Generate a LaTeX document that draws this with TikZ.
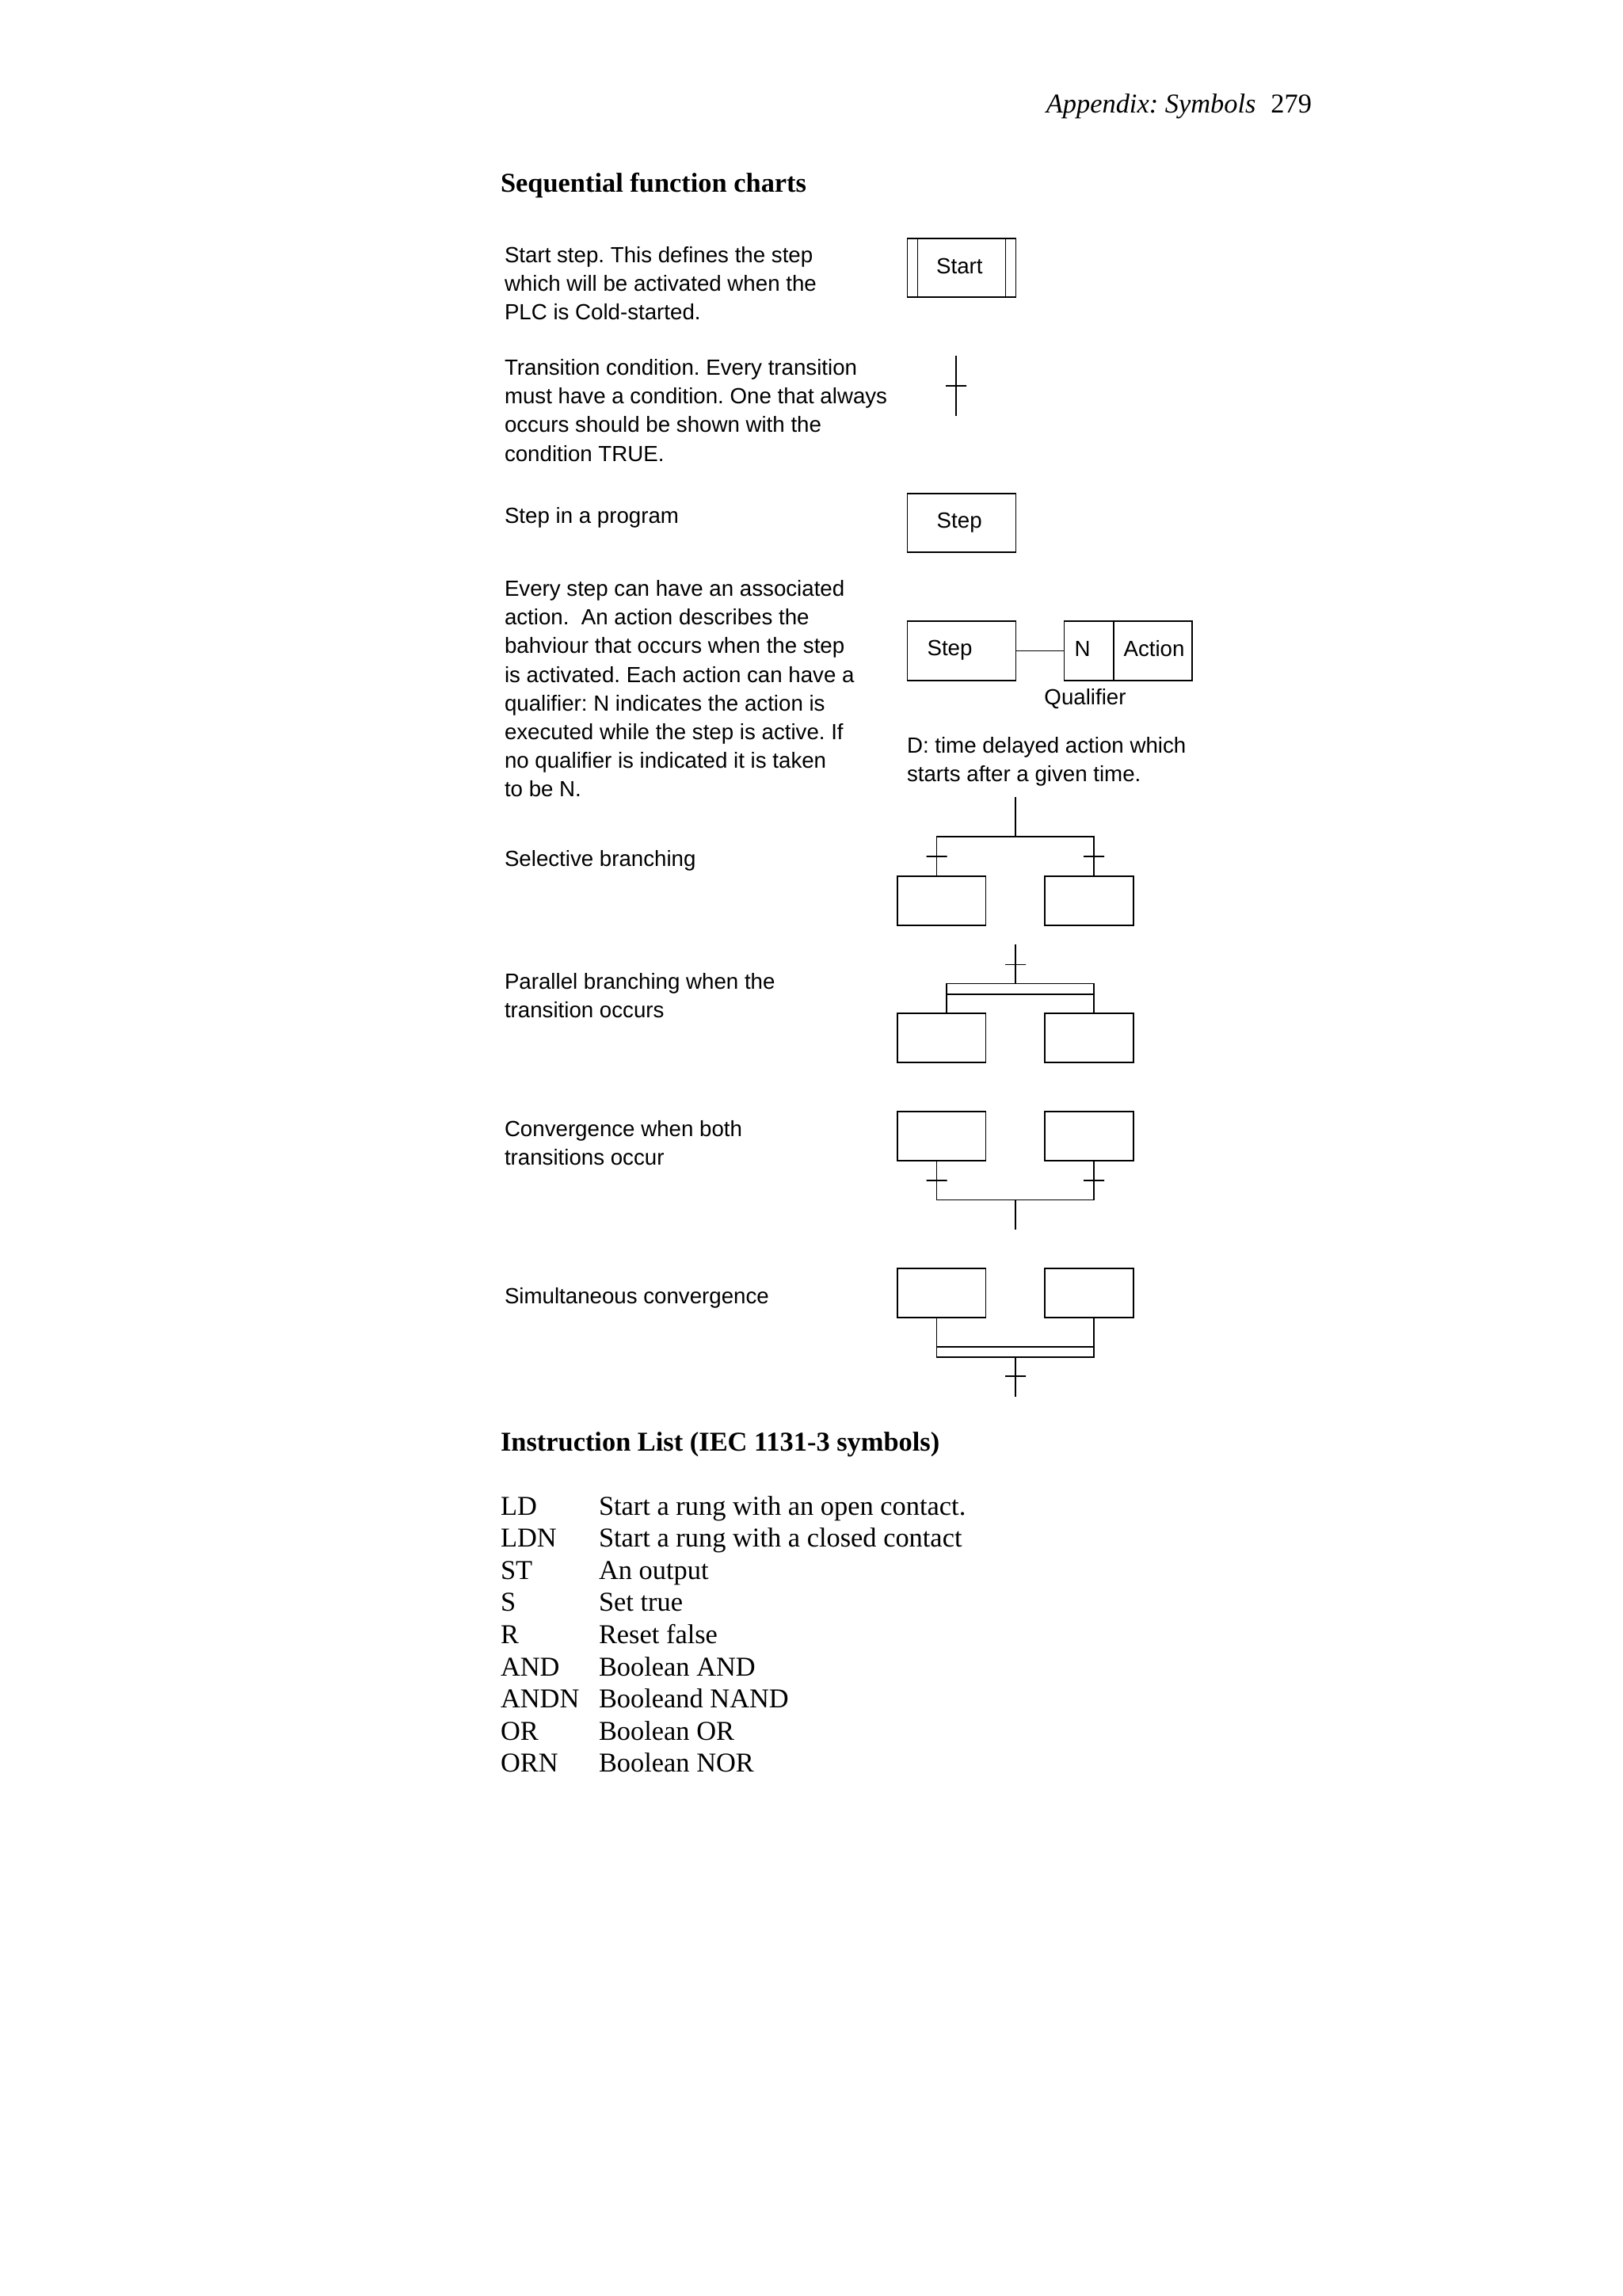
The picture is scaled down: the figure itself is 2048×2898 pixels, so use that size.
\documentclass[tikz,border=0pt]{standalone}
\usepackage{fontspec}
\setmainfont{Liberation Serif}
\setsansfont{Liberation Sans}
\usetikzlibrary{positioning}
\frenchspacing

\begin{document}
\begin{tikzpicture}
  [x=0.25pt, y=-0.25pt, node distance=18.7pt, line width=0.45pt,
   every node/.style = {inner sep=0pt, outer sep=0pt},
   every label/.style = {inner sep=0pt, font = \fontsize{6.92}{9}\sffamily},
   note/.style = {anchor=north west, align=left, font = \fontsize{6.92}{9.05}\sffamily},
   heading/.style = {anchor=west, font = \fontsize{8.6}{10}\selectfont\bfseries},
   listkey/.style = {anchor=base west, font = \fontsize{8.6}{10}\selectfont},
   stepbox/.style = {draw, minimum width=34.25pt, minimum height=18.65pt},
   branchbox/.style = {draw, anchor=north west, minimum width=27.85pt, minimum height=15.5pt},
   tick/.style = {draw, minimum width=6.5pt, minimum height=0pt}]
  \useasboundingbox (0,0) rectangle (2048,2898);

  \node (page) [anchor=east, font = \fontsize{8.6}{10}\selectfont] at (1656,134.5) {\textit{Appendix: Symbols}\hspace{0.55em}279};
  \node (sfc) [heading] at (632,234.5) {Sequential function charts};

  \node (startnote) [note] at (637,311.5) {Start step. This defines the step\\which will be activated when the\\PLC is Cold-started.};
  \node (transnote) [note] at (637,453.5) {Transition condition. Every transition\\must have a condition. One that always\\occurs should be shown with the\\condition TRUE.};
  \node (stepnote) [note] at (637,640.5) {Step in a program};
  \node (actnote) [note] at (637,732.5) {Every step can have an associated\\action.\ \ An action describes the\\bahviour that occurs when the step\\is activated. Each action can have a\\qualifier: N indicates the action is\\executed while the step is active. If\\no qualifier is indicated it is taken\\to be N.};
  \node (selnote) [note] at (637,1073.5) {Selective branching};
  \node (parnote) [note] at (637,1228.5) {Parallel branching when the\\transition occurs};
  \node (connote) [note] at (637,1414.5) {Convergence when both\\transitions occur};
  \node (simnote) [note] at (637,1625.5) {Simultaneous convergence};

  \node (start) [stepbox, label={[xshift=-0.65pt,yshift=0.5pt]center:Start}] at (1214,338) {};
  \draw ([xshift=3.25pt]start.north west) -- ([xshift=3.25pt]start.south west);
  \draw ([xshift=-3.25pt]start.north east) -- ([xshift=-3.25pt]start.south east);

  \coordinate (transin) at (1207,449);
  \coordinate (transout) at (1207,525);
  \node (trans) [tick] at (1207,487) {};
  \draw (transin) -- (transout);

  \node (step) [stepbox, label={[xshift=-0.7pt,yshift=0.15pt]center:Step}] at (1214,660) {};

  \node (stepb) [stepbox, label={[xshift=-3.75pt,yshift=0.1pt]center:Step}] at (1214,821.5) {};
  \node (qual) [stepbox, minimum width=15.6pt, right=15.25pt of stepb, label={[xshift=-2pt,yshift=0.75pt]center:N}] {};
  \node (action) [stepbox, minimum width=24.85pt, right=0pt of qual, label={[xshift=0.35pt,yshift=0.75pt]center:Action}] {};
  \draw (stepb) -- (qual);
  \node (qualnote) [font = \fontsize{6.92}{9}\sffamily] at (1370,882) {Qualifier};
  \node (dnote) [note] at (1145,930.5) {D: time delayed action which\\starts after a given time.};

  \node (sela) [branchbox] at (1133,1105.6) {};
  \node (selb) [branchbox, right=of sela] {};
  \coordinate (selin) at (1282,1006);
  \coordinate (seljoin) at (1282,1056);
  \coordinate (selleft) at (1182.5,1056);
  \coordinate (selright) at (1381,1056);
  \node (selta) [tick] at (1182.5,1080.7) {};
  \node (seltb) [tick] at (1381,1080.7) {};
  \draw (selin) -- (seljoin);
  \draw (selleft |- sela.north) -- (selleft) -- (selright) -- (selright |- selb.north);

  \node (para) [branchbox] at (1133,1279.2) {};
  \node (parb) [branchbox, right=of para] {};
  \coordinate (parin) at (1282,1192);
  \node (parbar) [draw, anchor=north west, minimum width=46.4pt, minimum height=3.3pt] at (1195.2,1241.5) {};
  \node (partick) [tick] at (1282,1217.4) {};
  \draw (parin) -- (parin |- parbar.north);
  \draw (parbar.north west) -- (parbar.north west |- para.north);
  \draw (parbar.north east) -- (parbar.north east |- parb.north);

  \node (cona) [branchbox] at (1133,1403) {};
  \node (conb) [branchbox, right=of cona] {};
  \coordinate (conout) at (1282,1552);
  \coordinate (conjoin) at (1282,1514.4);
  \coordinate (conleft) at (1182.5,1514.4);
  \coordinate (conright) at (1381,1514.4);
  \node (conta) [tick] at (1182.5,1489.8) {};
  \node (contb) [tick] at (1381,1489.8) {};
  \draw (conjoin) -- (conout);
  \draw (conleft |- cona.south) -- (conleft) -- (conright) -- (conright |- conb.south);

  \node (sima) [branchbox] at (1133,1600.7) {};
  \node (simb) [branchbox, right=of sima] {};
  \coordinate (simout) at (1282,1762.7);
  \node (simbar) [draw, anchor=north west, minimum width=49.6pt, minimum height=3.2pt] at (1182.5,1700) {};
  \node (simtick) [tick] at (1282,1737.3) {};
  \draw (simbar.south -| simout) -- (simout);
  \draw (simbar.north west) -- (simbar.north west |- sima.south);
  \draw (simbar.north east) -- (simbar.north east |- simb.south);

  \node (il) [heading] at (632,1823.5) {Instruction List (IEC 1131-3 symbols)};

  \node (ld) [listkey] at (632,1912) {LD};
  \node (ldn) [listkey] at (632,1952.6) {LDN};
  \node (st) [listkey] at (632,1993.2) {ST};
  \node (set) [listkey] at (632,2033.8) {S};
  \node (res) [listkey] at (632,2074.4) {R};
  \node (and) [listkey] at (632,2115) {AND};
  \node (andn) [listkey] at (632,2155.6) {ANDN};
  \node (or) [listkey] at (632,2196.2) {OR};
  \node (orn) [listkey] at (632,2236.8) {ORN};

  \node (ldtext) [listkey] at (756,1912) {Start a rung with an open contact.};
  \node (ldntext) [listkey] at (756,1952.6) {Start a rung with a closed contact};
  \node (sttext) [listkey] at (756,1993.2) {An output};
  \node (settext) [listkey] at (756,2033.8) {Set true};
  \node (restext) [listkey] at (756,2074.4) {Reset false};
  \node (andtext) [listkey] at (756,2115) {Boolean AND};
  \node (andntext) [listkey] at (756,2155.6) {Booleand NAND};
  \node (ortext) [listkey] at (756,2196.2) {Boolean OR};
  \node (orntext) [listkey] at (756,2236.8) {Boolean NOR};
\end{tikzpicture}
\end{document}
